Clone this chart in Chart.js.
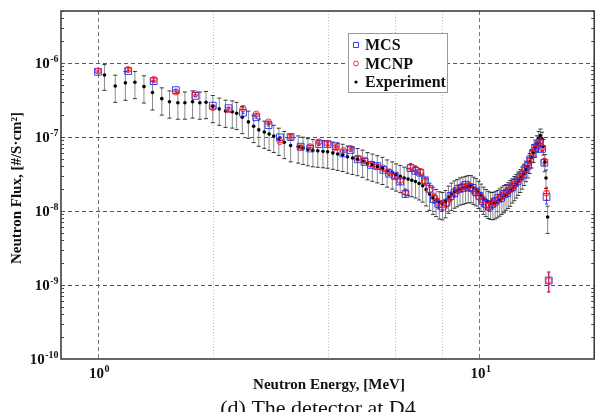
<!DOCTYPE html>
<html>
<head>
<meta charset="utf-8">
<script src="https://cdn.jsdelivr.net/npm/chart.js@4.4.0/dist/chart.umd.min.js"></script>
<style>
  html, body { margin: 0; padding: 0; background: #fff; overflow: hidden; }
  #wrap { width: 600px; height: 412px; }
</style>
</head>
<body>
<div id="wrap"><canvas id="fluxChart" width="600" height="412"></canvas></div>
<script>
// Energias dos cálculos (MCS e MCNP usam a mesma grade), em MeV
const simE = [1.0, 1.2, 1.4, 1.6, 1.8, 2.0, 2.2, 2.4, 2.6, 2.8, 3.0, 3.2, 3.4, 3.6, 3.8, 4.0, 4.2, 4.4, 4.6, 4.8,
  5.0, 5.2, 5.4, 5.6, 5.8, 6.0, 6.2, 6.4, 6.6, 6.8, 7.0, 7.2, 7.4, 7.6, 7.8, 8.0, 8.2, 8.4, 8.6, 8.8,
  9.0, 9.2, 9.4, 9.6, 9.8, 10.0, 10.2, 10.4, 10.6, 10.8, 11.0, 11.2, 11.4, 11.6, 11.8, 12.0, 12.2, 12.4, 12.6, 12.8,
  13.0, 13.2, 13.4, 13.6, 13.8, 14.0, 14.2, 14.4, 14.6, 14.8, 15.0, 15.2];

const mcsFlux = [7.6e-7, 7.8e-7, 5.7e-7, 4.3e-7, 3.6e-7, 2.65e-7, 2.45e-7, 2.13e-7, 1.85e-7, 1.45e-7, 9.9e-8, 1.0e-7, 7.4e-8, 7.0e-8, 8.0e-8, 8.0e-8, 7.5e-8, 6.0e-8, 6.7e-8, 5.0e-8,
  4.6e-8, 4.2e-8, 4.05e-8, 3.6e-8, 3.2e-8, 3.0e-8, 2.5e-8, 1.7e-8, 3.8e-8, 3.5e-8, 3.3e-8, 2.6e-8, 2.0e-8, 1.45e-8, 1.25e-8, 1.15e-8, 1.3e-8, 1.6e-8, 1.75e-8, 2.0e-8,
  2.05e-8, 2.25e-8, 2.1e-8, 2.05e-8, 1.8e-8, 1.6e-8, 1.35e-8, 1.25e-8, 1.15e-8, 1.25e-8, 1.35e-8, 1.5e-8, 1.5e-8, 1.7e-8, 1.75e-8, 2.0e-8, 2.1e-8, 2.4e-8, 2.55e-8, 2.9e-8,
  3.1e-8, 3.7e-8, 4.1e-8, 5.0e-8, 5.9e-8, 7.1e-8, 7.7e-8, 8.4e-8, 6.9e-8, 4.5e-8, 1.55e-8, 1.15e-9];

const mcnpFlux = [7.8e-7, 8.2e-7, 6.0e-7, 4.05e-7, 3.85e-7, 2.5e-7, 2.32e-7, 2.44e-7, 2.05e-7, 1.6e-7, 8.7e-8, 1.0e-7, 7.2e-8, 7.4e-8, 8.6e-8, 8.2e-8, 7.2e-8, 6.6e-8, 7.0e-8, 5.2e-8,
  4.9e-8, 4.3e-8, 4.0e-8, 3.8e-8, 3.4e-8, 2.9e-8, 2.6e-8, 1.8e-8, 4.0e-8, 3.7e-8, 3.4e-8, 2.5e-8, 1.9e-8, 1.55e-8, 1.3e-8, 1.2e-8, 1.25e-8, 1.5e-8, 1.85e-8, 1.95e-8,
  2.15e-8, 2.1e-8, 2.2e-8, 1.95e-8, 1.85e-8, 1.55e-8, 1.4e-8, 1.2e-8, 1.2e-8, 1.3e-8, 1.3e-8, 1.45e-8, 1.6e-8, 1.65e-8, 1.85e-8, 1.95e-8, 2.2e-8, 2.3e-8, 2.6e-8, 2.8e-8,
  3.2e-8, 3.6e-8, 4.3e-8, 4.8e-8, 6.1e-8, 6.9e-8, 7.9e-8, 8.7e-8, 7.1e-8, 4.7e-8, 1.75e-8, 1.15e-9];

// Incerteza relativa dos cálculos (%)
const simErr = [3, 3, 3, 3, 3, 3, 3, 3, 3, 3, 3, 3, 4, 4, 4, 4, 4, 4, 4, 5,
  5, 5, 5, 5, 6, 6, 8, 10, 10, 10, 10, 10, 12, 12, 14, 14, 12, 12, 12, 12,
  12, 12, 12, 12, 12, 12, 14, 14, 14, 14, 12, 12, 12, 12, 12, 12, 12, 12, 10, 10,
  10, 10, 10, 10, 10, 8, 8, 8, 8, 10, 20, 30];

// Medição (Experiment)
const expE = [1.04, 1.11, 1.18, 1.25, 1.32, 1.39, 1.47, 1.54, 1.62, 1.69, 1.77, 1.85, 1.92, 2.00, 2.08, 2.16,
  2.25, 2.31, 2.39, 2.48, 2.56, 2.64, 2.73, 2.81, 2.89, 2.98, 3.08, 3.20,
  3.35, 3.45, 3.55, 3.66, 3.77, 3.89, 4.00, 4.13, 4.25, 4.38, 4.51, 4.65, 4.79, 4.94, 5.09, 5.24, 5.40, 5.57, 5.73, 5.91,
  6.05, 6.20, 6.35, 6.50, 6.65, 6.80, 6.95, 7.10, 7.25, 7.40, 7.55, 7.70, 7.85, 8.00, 8.15, 8.30, 8.45, 8.60, 8.75, 8.90,
  9.05, 9.20, 9.35, 9.50, 9.65, 9.80, 9.95, 10.10, 10.25, 10.40, 10.55, 10.70, 10.85, 11.00, 11.15, 11.30, 11.45, 11.60,
  11.75, 11.90, 12.05, 12.20, 12.35, 12.50, 12.65, 12.80, 12.95, 13.10, 13.25, 13.40, 13.55, 13.70, 13.85, 14.00,
  14.15, 14.30, 14.45, 14.60, 14.72, 14.85, 14.95, 15.10];

const expFlux = [6.9e-7, 4.9e-7, 5.4e-7, 5.5e-7, 4.8e-7, 4.0e-7, 3.3e-7, 3.0e-7, 2.9e-7, 2.9e-7, 3.0e-7, 2.9e-7, 2.95e-7, 2.6e-7, 2.4e-7, 2.25e-7,
  2.2e-7, 2.1e-7, 1.85e-7, 1.6e-7, 1.4e-7, 1.25e-7, 1.17e-7, 1.1e-7, 1.03e-7, 9.4e-8, 8.5e-8, 7.7e-8,
  7.4e-8, 7.1e-8, 6.8e-8, 6.6e-8, 6.5e-8, 6.4e-8, 6.3e-8, 6.1e-8, 5.9e-8, 5.7e-8, 5.4e-8, 5.2e-8, 5.0e-8, 4.75e-8, 4.4e-8, 4.2e-8, 4.0e-8, 3.8e-8, 3.5e-8, 3.3e-8,
  3.1e-8, 2.95e-8, 2.8e-8, 2.7e-8, 2.6e-8, 2.5e-8, 2.35e-8, 2.2e-8, 1.95e-8, 1.7e-8, 1.5e-8, 1.4e-8, 1.3e-8, 1.27e-8, 1.35e-8, 1.55e-8, 1.7e-8, 1.82e-8, 1.9e-8, 2.0e-8,
  2.05e-8, 2.1e-8, 2.15e-8, 2.15e-8, 2.05e-8, 1.95e-8, 1.8e-8, 1.65e-8, 1.5e-8, 1.4e-8, 1.32e-8, 1.28e-8, 1.27e-8, 1.3e-8, 1.35e-8, 1.42e-8, 1.5e-8, 1.58e-8,
  1.65e-8, 1.75e-8, 1.87e-8, 2.0e-8, 2.15e-8, 2.3e-8, 2.5e-8, 2.7e-8, 2.95e-8, 3.25e-8, 3.6e-8, 4.0e-8, 4.6e-8, 5.3e-8, 6.2e-8, 7.2e-8,
  8.3e-8, 9.6e-8, 1.05e-7, 9.5e-8, 7.5e-8, 4.6e-8, 2.8e-8, 8.3e-9];

// Incerteza relativa da medição (%)
const expErr = [38, 40, 42, 40, 40, 42, 40, 40, 40, 40, 40, 40, 40, 40, 40, 40,
  40, 40, 40, 40, 40, 40, 40, 40, 40, 40, 40, 40,
  40, 40, 40, 40, 40, 40, 40, 40, 40, 40, 40, 40, 40, 40, 40, 40, 40, 40, 40, 40,
  40, 40, 40, 40, 40, 40, 40, 40, 40, 40, 40, 40, 40, 40, 40, 40, 40, 40, 40, 40,
  40, 40, 40, 40, 40, 40, 40, 40, 40, 40, 40, 40, 40, 40, 40, 40, 40, 40,
  38, 38, 38, 36, 36, 35, 35, 34, 33, 32, 31, 30, 30, 28, 27, 26,
  25, 24, 22, 22, 24, 26, 28, 40];

// Linhas de grade verticais e rótulos
const xGridDashed = [1, 10];
const xGridDotted = [2, 4, 6, 8];
const xTickExp = [0, 1];
const yTickExp = [-10, -9, -8, -7, -6];

const SERIF = '"Liberation Serif", "Times New Roman", serif';
const BLUE = 'rgba(25, 45, 255, 0.9)';
const RED = 'rgba(255, 20, 20, 0.9)';

function drawPow(ctx, exp, x, y, align) {
  const base = '10';
  const sup = String(exp);
  ctx.font = 'bold 15px ' + SERIF;
  const wb = ctx.measureText(base).width;
  ctx.font = 'bold 10px ' + SERIF;
  const ws = ctx.measureText(sup).width;
  let left = align === 'right' ? x - wb - ws : x - (wb + ws) / 2;
  ctx.fillStyle = '#111';
  ctx.textAlign = 'left';
  ctx.textBaseline = 'alphabetic';
  ctx.font = 'bold 15px ' + SERIF;
  ctx.fillText(base, left, y + 5);
  ctx.font = 'bold 10px ' + SERIF;
  ctx.fillText(sup, left + wb + 0.5, y - 1);
}

const fluxDecor = {
  id: 'fluxDecor',
  beforeDatasetsDraw(chart) {
    const { ctx, chartArea: a, scales: { x, y } } = chart;
    ctx.save();
    ctx.beginPath();
    ctx.rect(a.left, a.top, a.right - a.left, a.bottom - a.top);
    ctx.clip();

    // grade
    ctx.lineWidth = 1;
    ctx.strokeStyle = '#bbb';
    ctx.setLineDash([1, 2]);
    xGridDotted.forEach(v => {
      const px = Math.round(x.getPixelForValue(v)) + 0.5;
      ctx.beginPath(); ctx.moveTo(px, a.top); ctx.lineTo(px, a.bottom); ctx.stroke();
    });
    ctx.strokeStyle = '#777';
    ctx.setLineDash([4, 3]);
    xGridDashed.forEach(v => {
      const px = Math.round(x.getPixelForValue(v)) + 0.5;
      ctx.beginPath(); ctx.moveTo(px, a.top); ctx.lineTo(px, a.bottom); ctx.stroke();
    });
    ctx.strokeStyle = '#555';
    yTickExp.forEach(e => {
      const py = Math.round(y.getPixelForValue(Math.pow(10, e))) + 0.5;
      ctx.beginPath(); ctx.moveTo(a.left, py); ctx.lineTo(a.right, py); ctx.stroke();
    });
    ctx.setLineDash([]);

    // barras de erro da medição
    expE.forEach((e, i) => {
      const f = expFlux[i];
      const d = f * expErr[i] / 100;
      const px = x.getPixelForValue(e);
      const top = y.getPixelForValue(f + d);
      const bot = y.getPixelForValue(f - d);
      ctx.strokeStyle = '#8a8a8a';
      ctx.lineWidth = 1;
      ctx.beginPath(); ctx.moveTo(px, top); ctx.lineTo(px, bot); ctx.stroke();
      ctx.strokeStyle = '#333';
      ctx.beginPath();
      ctx.moveTo(px - 2, top); ctx.lineTo(px + 2, top);
      ctx.moveTo(px - 2, bot); ctx.lineTo(px + 2, bot);
      ctx.stroke();
    });

    // barras de erro dos cálculos
    [[mcsFlux, BLUE], [mcnpFlux, RED]].forEach(([vals, color]) => {
      ctx.strokeStyle = color;
      ctx.lineWidth = 1;
      simE.forEach((e, i) => {
        const f = vals[i];
        const d = f * simErr[i] / 100;
        const px = x.getPixelForValue(e);
        const top = y.getPixelForValue(f + d);
        const bot = y.getPixelForValue(f - d);
        ctx.beginPath();
        ctx.moveTo(px, top); ctx.lineTo(px, bot);
        ctx.moveTo(px - 1.5, top); ctx.lineTo(px + 1.5, top);
        ctx.moveTo(px - 1.5, bot); ctx.lineTo(px + 1.5, bot);
        ctx.stroke();
      });
    });
    ctx.restore();
  },
  afterDatasetsDraw(chart) {
    const { ctx, chartArea: a, scales: { x, y } } = chart;
    ctx.save();

    // moldura
    ctx.strokeStyle = '#333';
    ctx.lineWidth = 1.5;
    ctx.strokeRect(a.left, a.top, a.right - a.left, a.bottom - a.top);

    // marcas menores do eixo y (dentro, dos dois lados)
    ctx.lineWidth = 1;
    ctx.strokeStyle = '#444';
    for (let e = -10; e <= -6; e++) {
      for (let k = 2; k <= 9; k++) {
        const v = k * Math.pow(10, e);
        const py = y.getPixelForValue(v);
        if (py < a.top) continue;
        const ry = Math.round(py) + 0.5;
        ctx.beginPath();
        ctx.moveTo(a.left, ry); ctx.lineTo(a.left + 3, ry);
        ctx.moveTo(a.right, ry); ctx.lineTo(a.right - 3, ry);
        ctx.stroke();
      }
    }

    // rótulos dos eixos
    yTickExp.forEach(e => drawPow(ctx, e, a.left - 3, y.getPixelForValue(Math.pow(10, e)), 'right'));
    xTickExp.forEach(e => drawPow(ctx, e, x.getPixelForValue(Math.pow(10, e)) + 1, a.bottom + 14, 'center'));

    ctx.fillStyle = '#111';
    ctx.textAlign = 'center';
    ctx.textBaseline = 'middle';
    ctx.font = 'bold 15px ' + SERIF;
    ctx.fillText('Neutron Energy, [MeV]', 329, 385);

    ctx.save();
    ctx.translate(17, 188);
    ctx.rotate(-Math.PI / 2);
    ctx.fillText('Neutron Flux, [#/S\u00b7cm\u00b2]', 0, 0);
    ctx.restore();

    // legenda
    const lx = 348, ly = 33, lw = 99, lh = 59;
    ctx.fillStyle = '#fff';
    ctx.fillRect(lx, ly, lw, lh);
    ctx.strokeStyle = '#999';
    ctx.lineWidth = 1;
    ctx.strokeRect(lx + 0.5, ly + 0.5, lw, lh);
    const items = [
      { text: 'MCS', style: 'rect', r: 3.6, stroke: BLUE, fill: 'rgba(0,0,0,0)', bw: 1 },
      { text: 'MCNP', style: 'circle', r: 2.4, stroke: RED, fill: 'rgba(0,0,0,0)', bw: 1 },
      { text: 'Experiment', style: 'circle', r: 1.6, stroke: '#000', fill: '#000', bw: 0 }
    ];
    items.forEach((it, i) => {
      const cy = ly + 12 + i * 18.5;
      ctx.strokeStyle = it.stroke;
      ctx.fillStyle = it.fill;
      ctx.lineWidth = 1;
      Chart.helpers.drawPoint(ctx, { pointStyle: it.style, radius: it.r, borderWidth: it.bw, rotation: 0 }, lx + 8, cy);
      ctx.fillStyle = '#111';
      ctx.textAlign = 'left';
      ctx.textBaseline = 'middle';
      ctx.font = 'bold 16px ' + SERIF;
      ctx.fillText(it.text, lx + 17, cy + 1);
    });

    // legenda da figura (cortada na borda inferior)
    ctx.fillStyle = '#111';
    ctx.textAlign = 'center';
    ctx.textBaseline = 'alphabetic';
    ctx.font = '22px ' + SERIF;
    ctx.fillText('(d) The detector at D4', 318, 415);
    ctx.restore();
  }
};

new Chart(document.getElementById('fluxChart'), {
  type: 'scatter',
  data: {
    datasets: [
      {
        label: 'MCS',
        data: simE.map((e, i) => ({ x: e, y: mcsFlux[i] })),
        pointStyle: 'rect',
        pointRadius: 4.8,
        borderColor: BLUE,
        backgroundColor: 'rgba(0,0,0,0)',
        borderWidth: 1,
        order: 2
      },
      {
        label: 'MCNP',
        data: simE.map((e, i) => ({ x: e, y: mcnpFlux[i] })),
        pointStyle: 'circle',
        pointRadius: 3,
        borderColor: RED,
        backgroundColor: 'rgba(0,0,0,0)',
        borderWidth: 1,
        order: 1
      },
      {
        label: 'Experiment',
        data: expE.map((e, i) => ({ x: e, y: expFlux[i] })),
        pointStyle: 'circle',
        pointRadius: 1.8,
        borderWidth: 0,
        backgroundColor: '#000',
        borderColor: '#000',
        order: 3
      }
    ]
  },
  options: {
    responsive: false,
    animation: false,
    devicePixelRatio: 1,
    layout: { padding: { top: 11, right: 2, left: 0, bottom: 0 } },
    plugins: { legend: { display: false }, tooltip: { enabled: false } },
    scales: {
      x: {
        type: 'logarithmic',
        min: 0.8,
        max: 20,
        ticks: { display: false },
        grid: { display: false },
        border: { display: false },
        afterFit: s => { s.height = 53; }
      },
      y: {
        type: 'logarithmic',
        min: 1e-10,
        max: 5.05e-6,
        ticks: { display: false },
        grid: { display: false },
        border: { display: false },
        afterFit: s => { s.width = 61; }
      }
    }
  },
  plugins: [fluxDecor]
});
</script>
</body>
</html>
